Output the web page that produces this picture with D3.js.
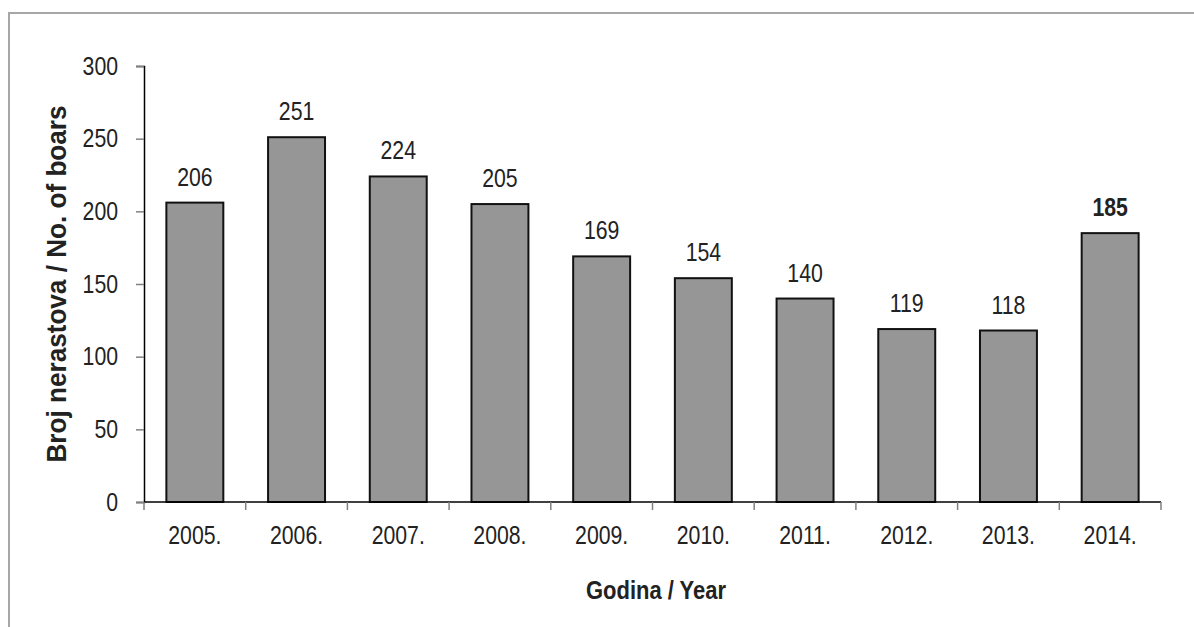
<!DOCTYPE html>
<html>
<head>
<meta charset="utf-8">
<script src="https://cdn.jsdelivr.net/npm/d3@7"></script>
<style>
  body { margin: 0; background: #fff; }
  text { font-family: "Liberation Sans", Arial, sans-serif; fill: #222; }
</style>
</head>
<body>
<script>
var years = ["2005.", "2006.", "2007.", "2008.", "2009.", "2010.", "2011.", "2012.", "2013.", "2014."];
var boars = [206, 251, 224, 205, 169, 154, 140, 119, 118, 185];
var yTicks = [0, 50, 100, 150, 200, 250, 300];

var width = 1194,
    height = 627,
    plotLeft = 144,
    plotRight = 1161,
    plotTop = 66,
    plotBottom = 502,
    squeeze = 0.85;   // the original font is a narrow one

var svg = d3.select("body")
        .append("svg")
        .attr("width", width)
        .attr("height", height);

// put a text at (x,y) and squeeze it horizontally
function narrowAt(sel, fx, fy) {
    sel.attr("transform", function(d, i) {
        return "translate(" + fx(d, i) + "," + fy(d, i) + ") scale(" + squeeze + ",1)";
    });
}

// outer frame (only top and left edges are visible)
svg.append("path")
    .attr("d", "M9," + height + "V13H" + width)
    .attr("fill", "none")
    .attr("stroke", "#a6a6a6")
    .attr("stroke-width", 2);

var x = d3.scaleBand()
        .domain(years)
        .range([plotLeft, plotRight])
        .paddingInner(0.44)
        .paddingOuter(0.22);

var y = d3.scaleLinear()
        .domain([0, 300])
        .range([plotBottom, plotTop]);

//bars
svg.selectAll("rect.bar")
    .data(boars)
    .enter()
    .append("rect")
    .attr("class", "bar")
    .attr("x", function(d, i) { return x(years[i]); })
    .attr("y", function(d) { return y(d); })
    .attr("width", x.bandwidth())
    .attr("height", function(d) { return y(0) - y(d); })
    .attr("fill", "#969696")
    .attr("stroke", "#111")
    .attr("stroke-width", 2);

//value labels
svg.selectAll("text.val")
    .data(boars)
    .enter()
    .append("text")
    .attr("class", "val")
    .text(function(d) { return d; })
    .attr("text-anchor", "middle")
    .attr("font-size", "25px")
    .attr("font-weight", function(d, i) { return i == boars.length - 1 ? "bold" : "normal"; })
    .call(narrowAt,
        function(d, i) { return x(years[i]) + x.bandwidth() / 2; },
        function(d) { return y(d) - 17; });

// y axis
var yAxis = svg.append("g")
    .attr("transform", "translate(" + plotLeft + ",0)")
    .call(d3.axisLeft(y).tickValues(yTicks).tickSize(8).tickPadding(10));
yAxis.select(".domain").attr("stroke", "#000").attr("stroke-width", 1.5);
yAxis.selectAll(".tick line").attr("stroke", "#808080").attr("stroke-width", 1.5);
yAxis.selectAll("text")
    .attr("font-size", "25px")
    .attr("fill", "#222")
    .attr("font-family", "Liberation Sans, Arial, sans-serif")
    .attr("x", -26 / squeeze)
    .attr("transform", "scale(" + squeeze + ",1)");

// x axis: ticks sit between categories
var xAxis = svg.append("g")
    .attr("transform", "translate(0," + plotBottom + ")");
xAxis.append("line")
    .attr("x1", plotLeft).attr("x2", plotRight)
    .attr("stroke", "#000").attr("stroke-width", 1.5);
xAxis.selectAll("line.tk")
    .data(d3.range(years.length + 1))
    .enter()
    .append("line")
    .attr("class", "tk")
    .attr("x1", function(i) { return plotLeft + i * (plotRight - plotLeft) / years.length; })
    .attr("x2", function(i) { return plotLeft + i * (plotRight - plotLeft) / years.length; })
    .attr("y1", 0).attr("y2", 8)
    .attr("stroke", "#808080").attr("stroke-width", 1.5);
xAxis.selectAll("text")
    .data(years)
    .enter()
    .append("text")
    .text(function(d) { return d; })
    .attr("text-anchor", "middle")
    .attr("font-size", "25px")
    .call(narrowAt,
        function(d) { return x(d) + x.bandwidth() / 2; },
        function() { return 42; });

// axis titles
svg.append("text")
    .text("Godina / Year")
    .attr("text-anchor", "middle")
    .attr("x", 656)
    .attr("y", 599)
    .attr("font-size", "26px")
    .attr("font-weight", "bold")
    .attr("textLength", 140)
    .attr("lengthAdjust", "spacingAndGlyphs");

svg.append("text")
    .text("Broj nerastova / No. of boars")
    .attr("text-anchor", "middle")
    .attr("transform", "translate(66,284) rotate(-90)")
    .attr("font-size", "27px")
    .attr("font-weight", "bold")
    .attr("textLength", 357)
    .attr("lengthAdjust", "spacingAndGlyphs");
</script>
</body>
</html>
